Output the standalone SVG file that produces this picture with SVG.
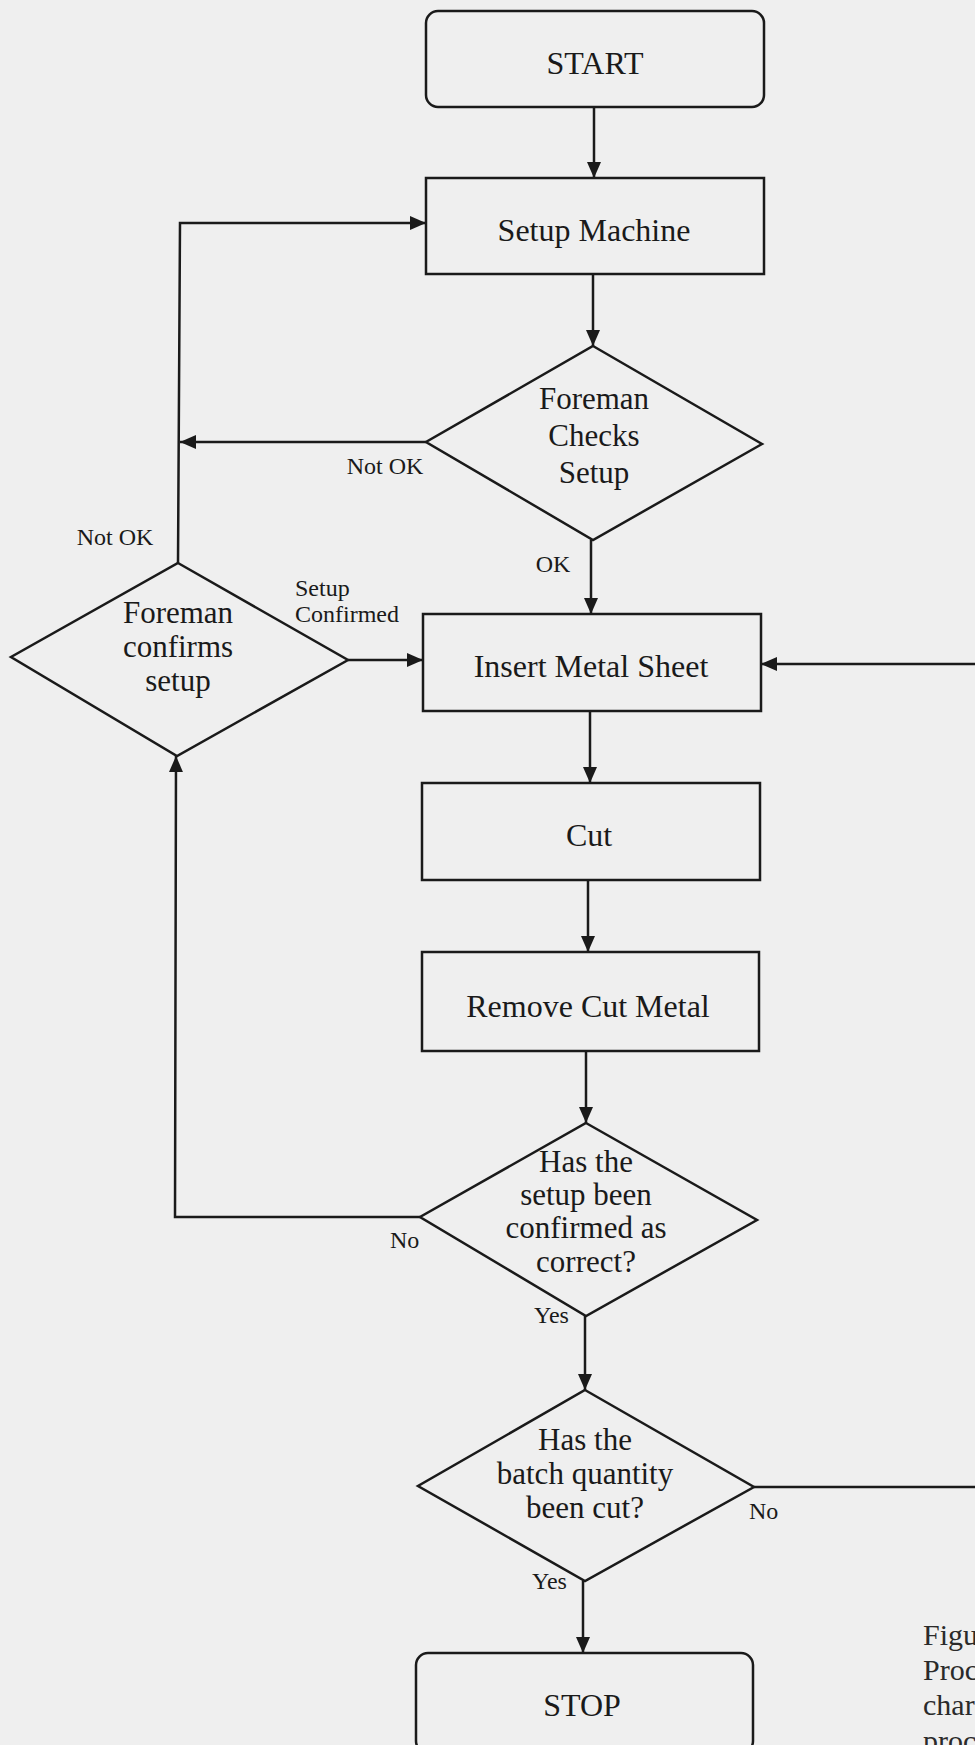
<svg xmlns="http://www.w3.org/2000/svg" width="975" height="1745" viewBox="0 0 975 1745">
<defs>
<marker id="arrow" markerUnits="userSpaceOnUse" markerWidth="16" markerHeight="14" refX="16" refY="7" orient="auto">
<path d="M0,0 L16,7 L0,14 z" fill="#1a1a1a"/>
</marker>
<style>
.shape{fill:none;stroke:#1a1a1a;stroke-width:2.5}
.conn{fill:none;stroke:#1a1a1a;stroke-width:2.5}
.arr{marker-end:url(#arrow)}
.t{font-family:"Liberation Serif","Times New Roman",serif;font-size:32px;fill:#1a1a1a;text-anchor:middle}
.d{font-family:"Liberation Serif","Times New Roman",serif;font-size:31px;fill:#1a1a1a;text-anchor:middle}
.l{font-family:"Liberation Serif","Times New Roman",serif;font-size:24px;fill:#1a1a1a}
.cap{font-family:"Liberation Serif","Times New Roman",serif;font-size:30px;fill:#2a2a2a}
</style>
</defs>
<rect x="0" y="0" width="975" height="1745" fill="#efefef"/>

<g id="connectors">
<path class="conn arr" d="M594,107 L594,178"/>
<path class="conn arr" d="M593,274 L593,346"/>
<path class="conn arr" d="M426,442 L180,442"/>
<path class="conn arr" d="M178,563 L180,223 L426,223"/>
<path class="conn arr" d="M348,660 L423,660"/>
<path class="conn arr" d="M591,540 L591,614"/>
<path class="conn arr" d="M975,664 L761,664"/>
<path class="conn arr" d="M590,711 L590,783"/>
<path class="conn arr" d="M588,880 L588,952"/>
<path class="conn arr" d="M586,1051 L586,1123"/>
<path class="conn arr" d="M420,1217 L175,1217 L176,756"/>
<path class="conn arr" d="M585,1316 L585,1390"/>
<path class="conn" d="M754,1487 L975,1487"/>
<path class="conn arr" d="M583,1581 L583,1653"/>
</g>

<g id="start">
<rect class="shape" x="426" y="11" width="338" height="96" rx="12"/>
<text class="t" x="595" y="74">START</text>
</g>
<g id="setup-machine">
<rect class="shape" x="426" y="178" width="338" height="96"/>
<text class="t" x="594" y="241">Setup Machine</text>
</g>
<g id="foreman-checks">
<polygon class="shape" points="593,346 762,444 593,540 426,442"/>
<text class="d" x="594" y="409">Foreman</text>
<text class="d" x="594" y="446">Checks</text>
<text class="d" x="594" y="483">Setup</text>
</g>
<g id="foreman-confirms">
<polygon class="shape" points="178,563 348,660 177,756 11,657"/>
<text class="d" x="178" y="623">Foreman</text>
<text class="d" x="178" y="657">confirms</text>
<text class="d" x="178" y="691">setup</text>
</g>
<g id="insert">
<rect class="shape" x="423" y="614" width="338" height="97"/>
<text class="t" x="591" y="677">Insert Metal Sheet</text>
</g>
<g id="cut">
<rect class="shape" x="422" y="783" width="338" height="97"/>
<text class="t" x="589" y="846">Cut</text>
</g>
<g id="remove">
<rect class="shape" x="422" y="952" width="337" height="99"/>
<text class="t" x="588" y="1017">Remove Cut Metal</text>
</g>
<g id="setup-confirmed-check">
<polygon class="shape" points="586,1123 757,1220 586,1316 420,1217"/>
<text class="d" x="586" y="1172">Has the</text>
<text class="d" x="586" y="1205">setup been</text>
<text class="d" x="586" y="1238">confirmed as</text>
<text class="d" x="586" y="1272">correct?</text>
</g>
<g id="batch-check">
<polygon class="shape" points="585,1390 754,1487 585,1581 418,1486"/>
<text class="d" x="585" y="1450">Has the</text>
<text class="d" x="585" y="1484">batch quantity</text>
<text class="d" x="585" y="1518">been cut?</text>
</g>
<g id="stop">
<rect class="shape" x="416" y="1653" width="337" height="100" rx="12"/>
<text class="t" x="582" y="1716">STOP</text>
</g>

<g id="labels">
<text class="l" x="385" y="474" text-anchor="middle">Not OK</text>
<text class="l" x="115" y="545" text-anchor="middle">Not OK</text>
<text class="l" x="553" y="572" text-anchor="middle">OK</text>
<text class="l" x="295" y="596">Setup</text>
<text class="l" x="295" y="622">Confirmed</text>
<text class="l" x="390" y="1248">No</text>
<text class="l" x="534" y="1323">Yes</text>
<text class="l" x="749" y="1519">No</text>
<text class="l" x="532" y="1589">Yes</text>
</g>

<g id="caption">
<text class="cap" x="923" y="1645">Figu</text>
<text class="cap" x="923" y="1680">Proc</text>
<text class="cap" x="923" y="1715">char</text>
<text class="cap" x="923" y="1751">proc</text>
</g>
</svg>
